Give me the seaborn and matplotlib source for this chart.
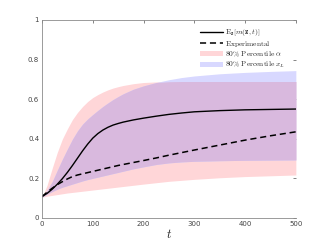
import numpy as np
import pandas as pd
import matplotlib
matplotlib.use("Agg")
import matplotlib.pyplot as plt
from matplotlib.patches import Patch
from matplotlib.lines import Line2D
import seaborn as sns

# Datos
t = [0, 10, 20, 30, 40, 50, 60, 70, 80, 90, 100, 110, 120, 130, 140, 150, 160, 180, 200,
     225, 250, 275, 300, 350, 400, 450, 500]
mean_model = [0.108, 0.124, 0.145, 0.17, 0.198, 0.23, 0.265, 0.302, 0.339, 0.373, 0.403,
              0.426, 0.444, 0.458, 0.469, 0.477, 0.484, 0.495, 0.504, 0.514, 0.523,
              0.530, 0.536, 0.542, 0.546, 0.548, 0.55]
experimental = [0.108, 0.13, 0.15, 0.168, 0.183, 0.197, 0.209, 0.217, 0.223, 0.229, 0.235,
                0.241, 0.247, 0.253, 0.259, 0.265, 0.27, 0.28, 0.29, 0.303, 0.317,
                0.33, 0.343, 0.368, 0.393, 0.415, 0.435]
alpha_lo = [0.105, 0.11, 0.114, 0.118, 0.122, 0.126, 0.129, 0.132, 0.135, 0.138, 0.141,
            0.144, 0.147, 0.15, 0.153, 0.156, 0.159, 0.165, 0.171, 0.178, 0.185,
            0.19, 0.195, 0.203, 0.209, 0.213, 0.217]
alpha_hi = [0.105, 0.165, 0.25, 0.33, 0.398, 0.45, 0.497, 0.533, 0.563, 0.588, 0.608,
            0.623, 0.636, 0.647, 0.656, 0.663, 0.669, 0.678, 0.684, 0.687, 0.688,
            0.689, 0.689, 0.689, 0.689, 0.689, 0.689]
xl_lo = [0.105, 0.12, 0.133, 0.145, 0.155, 0.163, 0.171, 0.179, 0.187, 0.194, 0.2,
         0.206, 0.212, 0.218, 0.224, 0.23, 0.236, 0.248, 0.258, 0.27, 0.278,
         0.283, 0.286, 0.289, 0.291, 0.292, 0.293]
xl_hi = [0.105, 0.14, 0.183, 0.24, 0.296, 0.348, 0.398, 0.44, 0.474, 0.5, 0.522,
         0.543, 0.563, 0.581, 0.598, 0.613, 0.627, 0.65, 0.667, 0.684, 0.698,
         0.709, 0.717, 0.728, 0.735, 0.74, 0.744]

df = pd.DataFrame({'t': t, 'mean': mean_model, 'exp': experimental,
                   'a_lo': alpha_lo, 'a_hi': alpha_hi, 'x_lo': xl_lo, 'x_hi': xl_hi})

# Estilo
sns.set_style("white")
plt.rcParams['mathtext.fontset'] = 'cm'
plt.rcParams['font.family'] = ['DejaVu Sans']
plt.rcParams['axes.unicode_minus'] = False

pink = '#ffd6d8'
blue = '#d8d8ff'
purple = '#d9b9de'

fig = plt.figure(figsize=(3.28, 2.46), dpi=100)
ax = fig.add_axes([0.128, 0.114, 0.774, 0.805])

# Bandas de percentiles (la zona común se pinta en morado)
ax.fill_between(df['t'], df['a_lo'], df['a_hi'], color=pink, lw=0)
ax.fill_between(df['t'], df['x_lo'], df['x_hi'], color=blue, lw=0)
inter_lo = np.maximum(df['a_lo'], df['x_lo'])
inter_hi = np.minimum(df['a_hi'], df['x_hi'])
ax.fill_between(df['t'], inter_lo, inter_hi, color=purple, lw=0)

# Curvas
sns.lineplot(data=df, x='t', y='mean', ax=ax, color='black', lw=1.0)
sns.lineplot(data=df, x='t', y='exp', ax=ax, color='black', lw=1.1,
             linestyle=(0, (4, 2.5)))

ax.set_xlim(0, 500)
ax.set_ylim(0, 1)
ax.set_xticks([0, 100, 200, 300, 400, 500])
ax.set_yticks([0, 0.2, 0.4, 0.6, 0.8, 1])
ax.set_yticklabels(['0', '0.2', '0.4', '0.6', '0.8', '1'])
ax.set_xlabel('$t$', fontsize=9, labelpad=1)
ax.set_ylabel('')

for side in ['left', 'bottom', 'top']:
    ax.spines[side].set_color('#8a8a8a')
    ax.spines[side].set_linewidth(0.6)
ax.spines['right'].set_visible(False)
ax.tick_params(direction='in', length=2.5, width=0.5, color='#555555',
               labelsize=5, labelcolor='#444444', top=True, right=True, pad=2)

handles = [Line2D([], [], color='black', lw=1.0),
           Line2D([], [], color='black', lw=1.1, linestyle=(0, (4, 2.5))),
           Patch(facecolor=pink, edgecolor='none'),
           Patch(facecolor=blue, edgecolor='none')]
labels = [r'$\mathrm{E}_{\mathbf{z}}[m(\mathbf{z},t)]$', r'$\mathrm{Experimental}$',
          r'$\mathrm{80\%\ Percentile}\ \alpha$', r'$\mathrm{80\%\ Percentile}\ x_L$']
ax.legend(handles, labels, loc='upper left', bbox_to_anchor=(0.615, 0.97),
          frameon=False, prop={'size': 5.4},
          handlelength=3.1, handletextpad=0.25, labelspacing=0.1, borderpad=0.2,
          borderaxespad=0.0)

fig.savefig('out.png', dpi=100)
